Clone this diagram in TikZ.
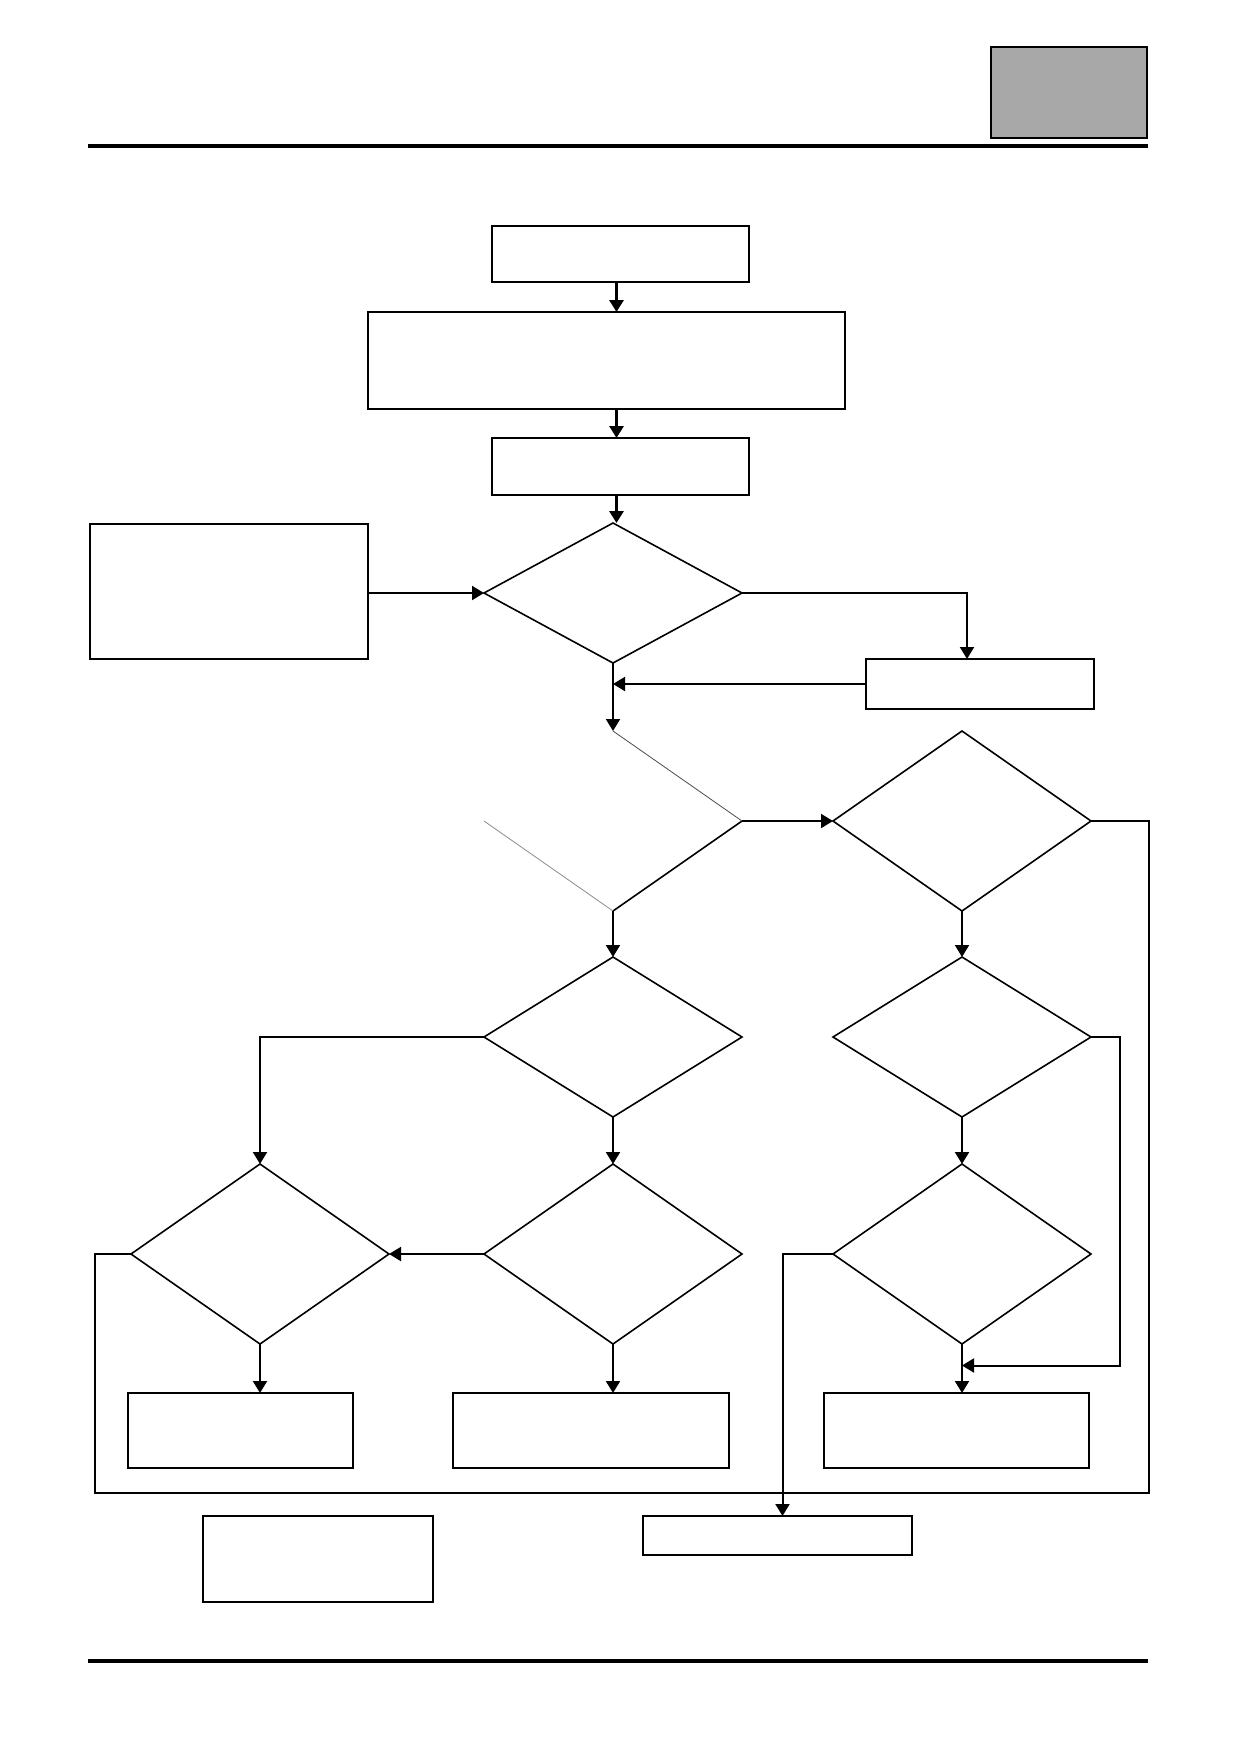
\documentclass[tikz,border=0pt]{standalone}
\usetikzlibrary{shapes.geometric,arrows.meta}
\definecolor{tabgray}{HTML}{A8A8A8}

\begin{document}
\begin{tikzpicture}[x=0.5pt,y=-0.5pt,
    box/.style={draw, line width=1pt, inner sep=0pt, outer sep=0pt},
    dec/.style={diamond, draw, line width=0.8pt, inner sep=0pt, outer sep=0pt, minimum width=129pt, minimum height=#1},
    dec/.default=90pt,
    arr/.style={-{Triangle[length=6pt,width=7pt]}, line width=1pt},
    thk/.style={line width=1.6pt},
    rule/.style={line width=2pt}]
    \useasboundingbox (0,0) rectangle (1235,1747);
    \coordinate (hl) at (88,145.5); \coordinate (hr) at (1148,145.5);
    \coordinate (fl) at (88,1660.5); \coordinate (fr) at (1148,1660.5);
    \draw[rule] (hl) -- (hr); \draw[rule] (fl) -- (fr);
    \node[box, fill=tabgray, minimum width=78.3pt, minimum height=45.8pt] (tab) at (1069,92.5) {};

    \node[box, minimum width=128.5pt, minimum height=28pt] (b1) at (620.5,254) {};
    \node[box, minimum width=238.5pt, minimum height=48.5pt] (b2) at (606.5,360.5) {};
    \node[box, minimum width=128.5pt, minimum height=28.5pt] (b3) at (620.5,466.5) {};
    \node[box, minimum width=139pt, minimum height=67.5pt] (bl) at (229,591.5) {};
    \node[box, minimum width=114pt, minimum height=25pt] (br) at (980,684) {};
    \node[dec=70pt] (d1) at (613,593) {};
    \node[dec, draw=none] (d2) at (613,821) {}; \node[dec] (d3) at (962,821) {};
    \node[dec=80pt] (d4) at (613,1037) {}; \node[dec=80pt] (d6) at (962,1037) {};
    \node[dec] (d5) at (260,1254) {}; \node[dec] (d7) at (613,1254) {}; \node[dec] (d9) at (962,1254) {};
    \node[box, minimum width=112.5pt, minimum height=37.5pt] (bx1) at (240.5,1430.5) {};
    \node[box, minimum width=138.25pt, minimum height=37.5pt] (bx2) at (590.75,1430.5) {};
    \node[box, minimum width=132.65pt, minimum height=37.5pt] (bx3) at (956.4,1430.5) {};
    \node[box, minimum width=114.75pt, minimum height=42.75pt] (bb1) at (317.75,1558.75) {};
    \node[box, minimum width=134.5pt, minimum height=19.5pt] (bb2) at (777.5,1535.5) {};

    \draw[line width=0.8pt] (d2.east) -- (d2.south);
    \draw[line width=0.4pt, black!70] (d2.north) -- (d2.east);
    \draw[line width=0.4pt, black!45] (d2.west) -- (d2.south);

    \coordinate (mid) at (616.5,0); \coordinate (sideR) at (1120,1365.5);
    \coordinate (loopR) at (1149,1492.5); \coordinate (loopL) at (94.7,1492.5);
    \draw[arr, thk] (b1.south -| mid) -- (b2.north -| mid);
    \draw[arr, thk] (b2.south -| mid) -- (b3.north -| mid);
    \draw[arr, thk] (b3.south -| mid) -- (d1.north -| mid);
    \draw[arr] (bl.east |- d1.west) -- (d1.west);
    \draw[arr] (d1.east) -| ([xshift=-6.5pt]br.north);
    \draw[arr] (br.west) -- (br.west -| d1.south);
    \foreach \a/\b in {d1/d2, d2/d4, d3/d6, d4/d7, d6/d9} \draw[arr] (\a.south) -- (\b.north);
    \foreach \a/\b in {d5/bx1, d7/bx2, d9/bx3} \draw[arr] (\a.south) -- (\a.south |- \b.north);
    \draw[arr] (d2.east) -- (d3.west);
    \draw[line width=1pt] (d3.east) -| (loopR) -- (loopL) |- (d5.west);
    \draw[arr] (d4.west) -| (d5.north);
    \draw[arr] (d6.east) -| (sideR) -- (sideR -| d9.south);
    \draw[arr] (d7.west) -- (d5.east);
    \draw[arr] (d9.west) -| ([xshift=2.5pt]bb2.north);
\end{tikzpicture}
\end{document}
